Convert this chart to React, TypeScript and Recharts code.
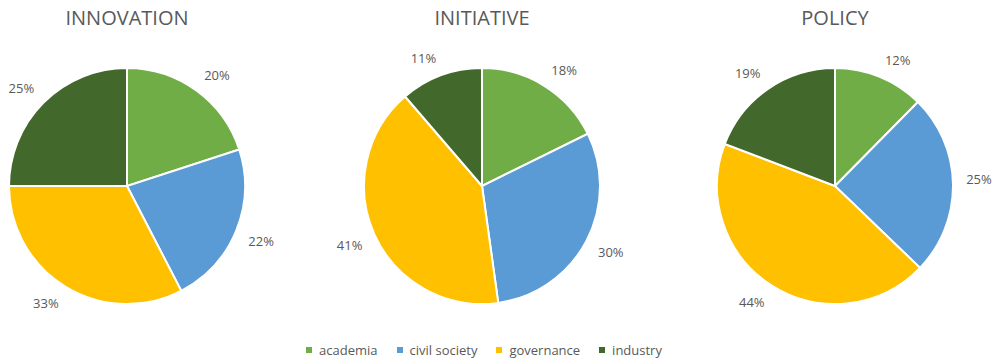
import { PieChart, Pie, Cell, Legend } from 'recharts';

const categories = ['academia', 'civil society', 'governance', 'industry'];
const colors = ['#70AD47', '#5B9BD5', '#FFC000', '#43682B'];

// shares read from the slice boundaries, labels show rounded percent
const innovationValues = [20, 22.4, 32.6, 25];
const initiativeValues = [17.7, 30.1, 40.9, 11.3];
const policyValues = [12.4, 24.8, 43.6, 19.2];

const chartTitles = ['INNOVATION', 'INITIATIVE', 'POLICY'];
const pieCenters = [127, 482, 835];

const toRows = (values: number[]) => values.map((value, i) => ({ name: categories[i], value }));

const RAD = Math.PI / 180;
const FONT = '"Open Sans", sans-serif';

// Excel-like "outside end": the label box sits just off the rim
const renderLabel = (props: any) => {
  const { cx, cy, midAngle, outerRadius, percent } = props;
  const ux = Math.cos(-midAngle * RAD);
  const uy = Math.sin(-midAngle * RAD);
  const r = outerRadius + 13;
  const x = cx + r * ux + 13 * Math.sign(ux);
  const y = cy + r * uy + 5 * Math.sign(uy);
  return (
    <text x={x} y={y} fill="#595959" fontSize={13} fontFamily={FONT} textAnchor="middle" dominantBaseline="central">
      {`${Math.round(percent * 100)}%`}
    </text>
  );
};

const LegendContent = () => (
  <div style={{ display: 'flex', justifyContent: 'center', fontFamily: FONT, fontSize: 13, color: '#595959' }}>
    {categories.map((c, i) => (
      <div key={c} style={{ display: 'flex', alignItems: 'center', marginRight: i < categories.length - 1 ? 19 : 0 }}>
        <span style={{ width: 6, height: 6, background: colors[i], marginRight: 7, display: 'inline-block' }} />
        <span>{c}</span>
      </div>
    ))}
  </div>
);

export default function App() {
  const datasets = [innovationValues, initiativeValues, policyValues];
  return (
    <div style={{ position: 'absolute', left: 0, top: 0, width: 992, height: 363, background: '#fff' }}>
      {chartTitles.map((t, i) => (
        <div
          key={t}
          style={{
            position: 'absolute',
            left: pieCenters[i] - 100,
            width: 200,
            top: 4,
            textAlign: 'center',
            fontFamily: FONT,
            fontSize: 20,
            color: '#595959',
          }}
        >
          {t}
        </div>
      ))}
      <PieChart width={992} height={363} margin={{ top: 0, right: 0, bottom: 0, left: 0 }}>
        {datasets.map((values, k) => (
          <Pie
            key={chartTitles[k]}
            data={toRows(values)}
            dataKey="value"
            nameKey="name"
            cx={pieCenters[k]}
            cy={186}
            outerRadius={118}
            startAngle={90}
            endAngle={-270}
            stroke="#fff"
            strokeWidth={2}
            label={renderLabel}
            labelLine={false}
            isAnimationActive={false}
          >
            {values.map((_, i) => (
              <Cell key={i} fill={colors[i]} />
            ))}
          </Pie>
        ))}
        <Legend content={<LegendContent />} wrapperStyle={{ left: -12, top: 341, width: 992 }} />
      </PieChart>
    </div>
  );
}
